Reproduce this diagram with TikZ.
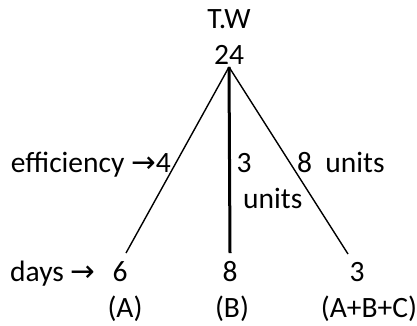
\documentclass[tikz,border=0pt]{standalone}
\usepackage{fontspec}
\setmainfont{Carlito}
\newfontfamily\arrowfont{DejaVu Sans}
\usetikzlibrary{positioning}
\newcommand{\rarr}{{\arrowfont\char"2192}}

\begin{document}
\begin{tikzpicture}[x=1pt, y=-1pt, every node/.style={font=\fontsize{29.5}{34}\selectfont, inner sep=0pt}, leg/.style={line width=1.4pt}]
\useasboundingbox (0,0) rectangle (417,325);
\node[anchor=base] (tw) at (229,28) {T.W};
\node[anchor=base] (total) at (229,64) {24};
\coordinate (apex) at (229,67);
\coordinate (endA) at (126,253);
\coordinate (endB) at (230,253);
\coordinate (endC) at (348,254);
\draw[leg] (apex) -- (endA);
\draw[leg, line width=3pt] (apex) -- (endB);
\draw[leg] (apex) -- (endC);
\node[anchor=base east] (eff) at (171,172) {efficiency \rarr4};
\node[anchor=base] (effB) at (244,172) {3};
\node[anchor=base west] (effC) at (297,172) {8\ \ units};
\node[anchor=base west] (unitB) at (243,208) {units};
\node[anchor=base west] (days) at (10,281) {days \rarr};
\node[anchor=base] (dayA) at (120,281) {6};
\node[anchor=base] (dayB) at (230,281) {8};
\node[anchor=base] (dayC) at (357,281) {3};
\node[anchor=base] (labA) at (125,317) {(A)};
\node[anchor=base] (labB) at (232,317) {(B)};
\node[anchor=base] (labC) at (369,317) {(A+B+C)};
\end{tikzpicture}
\end{document}
